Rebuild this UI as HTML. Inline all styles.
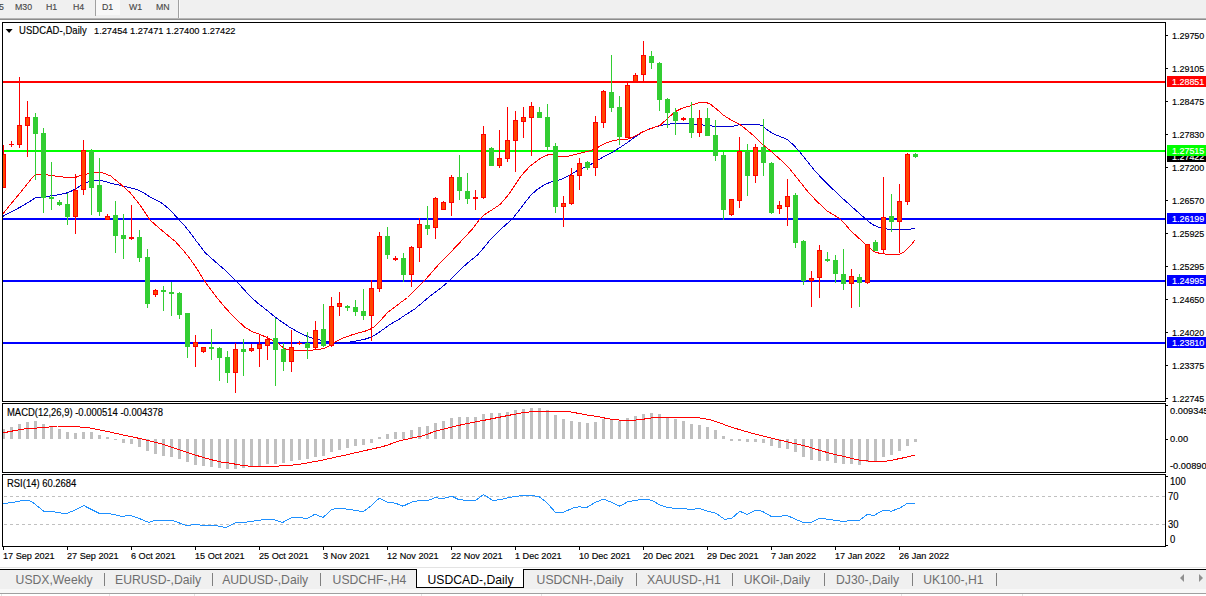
<!DOCTYPE html>
<html><head><meta charset="utf-8"><title>USDCAD-,Daily</title>
<style>
html,body{margin:0;padding:0;background:#fff;}
body{width:1206px;height:596px;position:relative;overflow:hidden;font-family:"Liberation Sans",sans-serif;}
.t{position:absolute;white-space:nowrap;line-height:12px;font-size:10.05px;color:#000;-webkit-text-stroke:0.15px currentColor;transform:scaleX(0.94);transform-origin:0 0;}
.ax{left:1171.6px;font-size:9.9px;transform:scaleX(0.905);}
.box{position:absolute;left:1167px;width:39px;height:11px;overflow:hidden;}
.box span{position:absolute;left:4.6px;top:0;font-size:9.9px;line-height:12px;color:#fff;-webkit-text-stroke:0.15px #fff;transform:scaleX(0.905);transform-origin:0 0;}
.dt{font-size:9.7px;top:550px;}
.tb{font-size:9.9px;color:#484848;top:1px;transform:scaleX(0.89);}
.tab{font-size:12.2px;line-height:16px;color:#6e6e6e;top:572px;-webkit-text-stroke:0;transform:none;}
.sep{position:absolute;top:573px;width:1px;height:13px;background:#808080;}
</style></head><body>
<div style="position:absolute;left:0;top:0;width:1206px;height:18px;background:#f0f0f0"></div>
<div style="position:absolute;left:0;top:18px;width:1206px;height:1px;background:#b4b4b4"></div>
<div style="position:absolute;left:0;top:19px;width:1206px;height:1px;background:#8c8c8c"></div>
<div style="position:absolute;left:95px;top:0;width:1px;height:16px;background:#a0a0a0"></div>
<div style="position:absolute;left:96px;top:0;width:24px;height:15px;background:#f8f8f8"></div>
<div style="position:absolute;left:178px;top:0;width:1px;height:18px;background:#a0a0a0"></div>
<div style="position:absolute;left:179px;top:0;width:1px;height:18px;background:#fafafa"></div>

<div class="t tb" style="left:-1.3px">5</div>
<div class="t tb" style="left:14.6px">M30</div>
<div class="t tb" style="left:45.6px">H1</div>
<div class="t tb" style="left:73px">H4</div>
<div class="t tb" style="left:101.5px">D1</div>
<div class="t tb" style="left:129.3px">W1</div>
<div class="t tb" style="left:155.5px">MN</div>
<div style="position:absolute;left:0;top:567px;width:1206px;height:1px;background:#e3e3e3"></div>
<div style="position:absolute;left:0;top:569px;width:1206px;height:20px;background:#f0f0f0"></div>
<div style="position:absolute;left:0;top:569px;width:1206px;height:1px;background:#000"></div>
<div style="position:absolute;left:0;top:589px;width:1206px;height:4px;background:#f8f8f8"></div>
<div style="position:absolute;left:0;top:593px;width:1206px;height:1px;background:#a0a0a0"></div>
<div style="position:absolute;left:1px;top:594px;width:1px;height:2px;background:#e4e4e4"></div>
<div style="position:absolute;left:109px;top:594px;width:1px;height:2px;background:#e4e4e4"></div>
<div style="position:absolute;left:194px;top:594px;width:1px;height:2px;background:#e4e4e4"></div>
<div style="position:absolute;left:421px;top:594px;width:1px;height:2px;background:#e4e4e4"></div>
<div style="position:absolute;left:541px;top:594px;width:1px;height:2px;background:#e4e4e4"></div>
<div style="position:absolute;left:901px;top:594px;width:1px;height:2px;background:#e4e4e4"></div>
<div style="position:absolute;left:1022px;top:594px;width:1px;height:2px;background:#e4e4e4"></div>
<div style="position:absolute;left:416px;top:569px;width:106px;height:18px;background:#fff;border:1px solid #000;border-top:none"></div>
<svg width="1206" height="596" viewBox="0 0 1206 596" style="position:absolute;left:0;top:0">
<defs><clipPath id="cm"><rect x="3" y="23" width="1162" height="378"/></clipPath></defs>
<g shape-rendering="crispEdges">
<rect x="3" y="81" width="1162" height="2" fill="#ff0000"/>
<rect x="3" y="150" width="1162" height="2" fill="#00ff00"/>
<rect x="3" y="218" width="1162" height="2" fill="#0000ff"/>
<rect x="3" y="280" width="1162" height="2" fill="#0000ff"/>
<rect x="3" y="342" width="1162" height="2" fill="#0000ff"/>
</g>
<g clip-path="url(#cm)" shape-rendering="crispEdges">
<polyline points="2.5,216.5 10.0,212.5 20.1,207.2 28.0,202.5 35.2,198.0 42.0,197.0 50.3,196.0 58.0,194.8 65.4,193.4 70.5,191.5 75.5,189.0 81.0,185.5 87.2,182.3 92.0,180.6 95.6,180.0 100.0,180.3 104.0,181.2 112.0,183.5 120.0,185.2 129.0,187.5 137.5,189.7 144.0,193.0 150.0,197.0 156.0,200.0 162.5,203.5 170.0,210.0 177.5,218.0 184.0,225.0 190.0,232.5 197.0,242.0 205.0,252.5 215.0,261.5 225.0,270.0 231.0,276.0 237.5,282.5 244.0,289.5 250.0,296.2 257.0,302.5 265.0,308.8 275.0,317.0 283.0,322.7 290.0,327.5 297.0,331.5 305.0,335.5 312.0,338.0 320.0,340.0 328.0,341.8 335.0,343.0 342.0,342.8 350.0,342.0 358.0,340.7 365.0,339.2 370.0,337.5 375.0,335.0 381.0,331.0 387.5,326.2 393.0,322.7 398.0,320.0 406.0,314.5 415.0,308.8 422.5,302.5 430.0,296.2 439.0,289.5 447.5,282.5 455.0,275.0 462.5,267.5 470.0,261.0 477.5,255.0 484.0,247.5 490.0,240.0 501.0,229.0 512.5,218.8 519.0,210.5 525.0,202.5 531.0,195.0 537.5,189.3 544.0,185.0 550.0,182.3 557.5,180.5 562.5,178.9 568.0,176.0 575.0,171.8 582.0,168.3 590.0,165.0 596.0,161.0 603.0,157.2 612.5,152.2 620.0,147.5 627.5,142.5 635.0,137.0 642.5,132.0 651.0,128.3 660.0,125.6 667.0,124.3 675.0,123.4 687.5,123.3 695.0,124.1 702.5,125.0 710.0,125.9 717.5,126.4 732.5,126.4 736.0,125.6 740.0,124.5 747.0,124.0 755.0,124.0 759.0,124.6 762.5,125.8 767.5,130.0 772.5,133.5 780.0,136.5 787.5,139.5 794.0,145.5 800.0,152.2 807.0,161.0 815.0,171.0 823.0,179.5 832.5,188.8 841.0,197.0 850.0,205.0 856.0,210.5 862.5,216.2 867.5,220.7 872.5,224.5 877.5,226.8 882.5,228.2 887.5,229.1 892.5,229.5 907.5,229.5 911.0,229.0 915.0,228.2" fill="none" stroke="#0000d0" stroke-width="1" stroke-linejoin="round"/>
<polyline points="2.5,214.5 10.0,205.0 20.0,193.0 30.0,180.5 35.2,174.5 40.3,174.0 50.3,175.3 62.5,177.0 75.5,177.4 80.5,175.5 87.2,174.0 95.6,172.2 100.0,172.0 104.0,173.3 110.7,176.0 120.0,183.7 130.0,192.5 140.0,205.0 150.0,220.0 162.5,231.0 175.0,241.2 183.0,250.0 190.0,258.8 197.0,269.0 203.8,280.0 214.0,294.0 225.0,307.5 235.0,318.0 245.0,327.5 252.0,331.5 260.0,334.5 268.0,338.0 275.0,341.2 280.0,345.0 285.0,348.8 290.0,350.2 295.0,350.5 307.5,350.5 318.0,349.6 325.0,348.0 330.0,345.5 335.0,342.0 342.0,338.5 350.0,335.5 358.0,333.0 365.0,331.2 370.0,329.3 375.0,326.2 381.0,320.0 387.5,312.5 392.5,308.8 400.0,303.0 407.5,297.5 416.0,289.0 425.0,280.0 432.5,271.5 440.0,263.0 448.5,254.5 457.5,245.0 465.0,237.0 472.5,228.8 477.5,222.0 482.5,216.2 486.0,213.5 490.0,211.2 495.0,207.9 500.0,204.5 505.0,199.0 510.0,192.5 515.0,185.0 520.0,177.5 525.0,171.5 530.0,166.2 535.0,162.5 541.0,158.0 547.5,155.0 552.0,154.7 557.0,156.3 562.5,157.0 569.0,156.0 575.0,154.5 585.0,152.0 591.0,150.5 597.5,147.5 603.0,144.5 610.0,141.4 617.0,140.0 627.5,139.3 635.0,136.0 642.5,132.0 651.0,128.5 660.0,125.4 667.0,119.0 675.0,111.8 682.0,108.3 690.0,105.9 696.0,103.6 701.2,102.0 706.0,102.4 710.0,104.0 716.0,108.5 722.5,114.5 731.0,120.0 740.0,124.5 747.5,130.5 755.0,137.0 762.5,144.5 770.0,150.5 778.0,157.5 787.5,166.2 797.0,178.0 807.5,191.2 817.0,201.5 827.5,211.2 834.0,215.0 840.0,218.8 845.0,224.0 850.0,230.0 857.0,236.5 865.0,243.8 870.0,248.5 875.0,252.0 881.0,253.7 887.5,254.2 900.0,254.2 904.0,252.0 907.5,248.8 911.0,245.0 915.0,240.0" fill="none" stroke="#ff0000" stroke-width="1" stroke-linejoin="round"/>
</g>
<g shape-rendering="crispEdges" clip-path="url(#cm)">
<rect x="3" y="145" width="1" height="43" fill="#ff0000"/>
<rect x="1" y="154" width="5" height="34" fill="#ff0000"/>
<rect x="2" y="155" width="3" height="32" fill="#ff4500"/>
<rect x="19" y="77" width="1" height="71" fill="#ff0000"/>
<rect x="17" y="125" width="5" height="20" fill="#ff0000"/>
<rect x="18" y="126" width="3" height="18" fill="#ff4500"/>
<rect x="27" y="101" width="1" height="56" fill="#ff0000"/>
<rect x="25" y="117" width="5" height="9" fill="#ff0000"/>
<rect x="26" y="118" width="3" height="7" fill="#ff4500"/>
<rect x="35" y="113" width="1" height="67" fill="#32cd32"/>
<rect x="33" y="117" width="5" height="17" fill="#32cd32"/>
<rect x="43" y="128" width="1" height="85" fill="#32cd32"/>
<rect x="41" y="133" width="5" height="65" fill="#32cd32"/>
<rect x="51" y="162" width="1" height="48" fill="#32cd32"/>
<rect x="49" y="197" width="5" height="2" fill="#32cd32"/>
<rect x="59" y="200" width="1" height="6" fill="#32cd32"/>
<rect x="57" y="202" width="5" height="3" fill="#32cd32"/>
<rect x="67" y="193" width="1" height="32" fill="#32cd32"/>
<rect x="65" y="204" width="5" height="13" fill="#32cd32"/>
<rect x="75" y="174" width="1" height="60" fill="#ff0000"/>
<rect x="73" y="190" width="5" height="27" fill="#ff0000"/>
<rect x="74" y="191" width="3" height="25" fill="#ff4500"/>
<rect x="83" y="140" width="1" height="55" fill="#ff0000"/>
<rect x="81" y="150" width="5" height="40" fill="#ff0000"/>
<rect x="82" y="151" width="3" height="38" fill="#ff4500"/>
<rect x="91" y="149" width="1" height="66" fill="#32cd32"/>
<rect x="89" y="151" width="5" height="37" fill="#32cd32"/>
<rect x="99" y="158" width="1" height="58" fill="#32cd32"/>
<rect x="97" y="185" width="5" height="27" fill="#32cd32"/>
<rect x="107" y="214" width="1" height="6" fill="#ff0000"/>
<rect x="105" y="216" width="5" height="4" fill="#ff0000"/>
<rect x="106" y="217" width="3" height="2" fill="#ff4500"/>
<rect x="115" y="201" width="1" height="52" fill="#32cd32"/>
<rect x="113" y="215" width="5" height="21" fill="#32cd32"/>
<rect x="123" y="214" width="1" height="45" fill="#32cd32"/>
<rect x="121" y="235" width="5" height="4" fill="#32cd32"/>
<rect x="131" y="205" width="1" height="35" fill="#ff0000"/>
<rect x="129" y="237" width="5" height="2" fill="#ff0000"/>
<rect x="139" y="230" width="1" height="32" fill="#32cd32"/>
<rect x="137" y="237" width="5" height="21" fill="#32cd32"/>
<rect x="147" y="249" width="1" height="59" fill="#32cd32"/>
<rect x="145" y="257" width="5" height="47" fill="#32cd32"/>
<rect x="155" y="289" width="1" height="8" fill="#ff0000"/>
<rect x="153" y="290" width="5" height="5" fill="#ff0000"/>
<rect x="154" y="291" width="3" height="3" fill="#ff4500"/>
<rect x="163" y="286" width="1" height="25" fill="#32cd32"/>
<rect x="161" y="290" width="5" height="2" fill="#32cd32"/>
<rect x="171" y="282" width="1" height="34" fill="#32cd32"/>
<rect x="169" y="292" width="5" height="2" fill="#32cd32"/>
<rect x="179" y="292" width="1" height="27" fill="#32cd32"/>
<rect x="177" y="293" width="5" height="22" fill="#32cd32"/>
<rect x="187" y="313" width="1" height="45" fill="#32cd32"/>
<rect x="185" y="313" width="5" height="34" fill="#32cd32"/>
<rect x="195" y="335" width="1" height="32" fill="#ff0000"/>
<rect x="193" y="342" width="5" height="5" fill="#ff0000"/>
<rect x="194" y="343" width="3" height="3" fill="#ff4500"/>
<rect x="203" y="347" width="1" height="6" fill="#ff0000"/>
<rect x="201" y="347" width="5" height="5" fill="#ff0000"/>
<rect x="202" y="348" width="3" height="3" fill="#ff4500"/>
<rect x="211" y="329" width="1" height="31" fill="#32cd32"/>
<rect x="209" y="347" width="5" height="2" fill="#32cd32"/>
<rect x="219" y="347" width="1" height="34" fill="#32cd32"/>
<rect x="217" y="348" width="5" height="10" fill="#32cd32"/>
<rect x="227" y="351" width="1" height="32" fill="#32cd32"/>
<rect x="225" y="357" width="5" height="16" fill="#32cd32"/>
<rect x="235" y="343" width="1" height="50" fill="#ff0000"/>
<rect x="233" y="349" width="5" height="24" fill="#ff0000"/>
<rect x="234" y="350" width="3" height="22" fill="#ff4500"/>
<rect x="243" y="339" width="1" height="37" fill="#32cd32"/>
<rect x="241" y="349" width="5" height="3" fill="#32cd32"/>
<rect x="251" y="344" width="1" height="8" fill="#ff0000"/>
<rect x="249" y="348" width="5" height="3" fill="#ff0000"/>
<rect x="250" y="349" width="3" height="1" fill="#ff4500"/>
<rect x="259" y="335" width="1" height="32" fill="#ff0000"/>
<rect x="257" y="344" width="5" height="5" fill="#ff0000"/>
<rect x="258" y="345" width="3" height="3" fill="#ff4500"/>
<rect x="267" y="336" width="1" height="24" fill="#ff0000"/>
<rect x="265" y="339" width="5" height="7" fill="#ff0000"/>
<rect x="266" y="340" width="3" height="5" fill="#ff4500"/>
<rect x="275" y="318" width="1" height="68" fill="#32cd32"/>
<rect x="273" y="338" width="5" height="12" fill="#32cd32"/>
<rect x="283" y="343" width="1" height="28" fill="#32cd32"/>
<rect x="281" y="349" width="5" height="13" fill="#32cd32"/>
<rect x="291" y="330" width="1" height="42" fill="#ff0000"/>
<rect x="289" y="347" width="5" height="15" fill="#ff0000"/>
<rect x="290" y="348" width="3" height="13" fill="#ff4500"/>
<rect x="307" y="332" width="1" height="27" fill="#32cd32"/>
<rect x="305" y="343" width="5" height="5" fill="#32cd32"/>
<rect x="315" y="321" width="1" height="29" fill="#ff0000"/>
<rect x="313" y="330" width="5" height="18" fill="#ff0000"/>
<rect x="314" y="331" width="3" height="16" fill="#ff4500"/>
<rect x="323" y="304" width="1" height="43" fill="#32cd32"/>
<rect x="321" y="329" width="5" height="17" fill="#32cd32"/>
<rect x="331" y="297" width="1" height="50" fill="#ff0000"/>
<rect x="329" y="306" width="5" height="40" fill="#ff0000"/>
<rect x="330" y="307" width="3" height="38" fill="#ff4500"/>
<rect x="339" y="292" width="1" height="24" fill="#ff0000"/>
<rect x="337" y="303" width="5" height="4" fill="#ff0000"/>
<rect x="338" y="304" width="3" height="2" fill="#ff4500"/>
<rect x="347" y="305" width="1" height="6" fill="#32cd32"/>
<rect x="345" y="306" width="5" height="2" fill="#32cd32"/>
<rect x="355" y="300" width="1" height="16" fill="#32cd32"/>
<rect x="353" y="307" width="5" height="5" fill="#32cd32"/>
<rect x="363" y="289" width="1" height="31" fill="#32cd32"/>
<rect x="361" y="311" width="5" height="5" fill="#32cd32"/>
<rect x="371" y="280" width="1" height="61" fill="#ff0000"/>
<rect x="369" y="288" width="5" height="28" fill="#ff0000"/>
<rect x="370" y="289" width="3" height="26" fill="#ff4500"/>
<rect x="379" y="232" width="1" height="60" fill="#ff0000"/>
<rect x="377" y="236" width="5" height="53" fill="#ff0000"/>
<rect x="378" y="237" width="3" height="51" fill="#ff4500"/>
<rect x="387" y="227" width="1" height="32" fill="#32cd32"/>
<rect x="385" y="236" width="5" height="19" fill="#32cd32"/>
<rect x="395" y="256" width="1" height="5" fill="#ff0000"/>
<rect x="393" y="258" width="5" height="2" fill="#ff0000"/>
<rect x="403" y="253" width="1" height="29" fill="#32cd32"/>
<rect x="401" y="258" width="5" height="17" fill="#32cd32"/>
<rect x="411" y="246" width="1" height="41" fill="#ff0000"/>
<rect x="409" y="247" width="5" height="28" fill="#ff0000"/>
<rect x="410" y="248" width="3" height="26" fill="#ff4500"/>
<rect x="419" y="218" width="1" height="44" fill="#ff0000"/>
<rect x="417" y="224" width="5" height="24" fill="#ff0000"/>
<rect x="418" y="225" width="3" height="22" fill="#ff4500"/>
<rect x="427" y="206" width="1" height="29" fill="#32cd32"/>
<rect x="425" y="225" width="5" height="4" fill="#32cd32"/>
<rect x="435" y="197" width="1" height="42" fill="#ff0000"/>
<rect x="433" y="198" width="5" height="30" fill="#ff0000"/>
<rect x="434" y="199" width="3" height="28" fill="#ff4500"/>
<rect x="443" y="201" width="1" height="9" fill="#ff0000"/>
<rect x="441" y="202" width="5" height="8" fill="#ff0000"/>
<rect x="442" y="203" width="3" height="6" fill="#ff4500"/>
<rect x="451" y="175" width="1" height="41" fill="#ff0000"/>
<rect x="449" y="177" width="5" height="26" fill="#ff0000"/>
<rect x="450" y="178" width="3" height="24" fill="#ff4500"/>
<rect x="459" y="155" width="1" height="45" fill="#32cd32"/>
<rect x="457" y="177" width="5" height="14" fill="#32cd32"/>
<rect x="467" y="173" width="1" height="31" fill="#32cd32"/>
<rect x="465" y="191" width="5" height="8" fill="#32cd32"/>
<rect x="475" y="190" width="1" height="20" fill="#ff0000"/>
<rect x="473" y="197" width="5" height="2" fill="#ff0000"/>
<rect x="483" y="126" width="1" height="73" fill="#ff0000"/>
<rect x="481" y="134" width="5" height="64" fill="#ff0000"/>
<rect x="482" y="135" width="3" height="62" fill="#ff4500"/>
<rect x="491" y="147" width="1" height="19" fill="#32cd32"/>
<rect x="489" y="148" width="5" height="18" fill="#32cd32"/>
<rect x="499" y="130" width="1" height="38" fill="#ff0000"/>
<rect x="497" y="158" width="5" height="8" fill="#ff0000"/>
<rect x="498" y="159" width="3" height="6" fill="#ff4500"/>
<rect x="507" y="107" width="1" height="55" fill="#ff0000"/>
<rect x="505" y="140" width="5" height="19" fill="#ff0000"/>
<rect x="506" y="141" width="3" height="17" fill="#ff4500"/>
<rect x="515" y="111" width="1" height="61" fill="#ff0000"/>
<rect x="513" y="120" width="5" height="21" fill="#ff0000"/>
<rect x="514" y="121" width="3" height="19" fill="#ff4500"/>
<rect x="523" y="107" width="1" height="31" fill="#ff0000"/>
<rect x="521" y="117" width="5" height="5" fill="#ff0000"/>
<rect x="522" y="118" width="3" height="3" fill="#ff4500"/>
<rect x="531" y="102" width="1" height="54" fill="#ff0000"/>
<rect x="529" y="106" width="5" height="12" fill="#ff0000"/>
<rect x="530" y="107" width="3" height="10" fill="#ff4500"/>
<rect x="539" y="107" width="1" height="11" fill="#32cd32"/>
<rect x="537" y="112" width="5" height="6" fill="#32cd32"/>
<rect x="547" y="104" width="1" height="46" fill="#32cd32"/>
<rect x="545" y="117" width="5" height="30" fill="#32cd32"/>
<rect x="555" y="143" width="1" height="70" fill="#32cd32"/>
<rect x="553" y="146" width="5" height="61" fill="#32cd32"/>
<rect x="563" y="196" width="1" height="31" fill="#ff0000"/>
<rect x="561" y="203" width="5" height="4" fill="#ff0000"/>
<rect x="562" y="204" width="3" height="2" fill="#ff4500"/>
<rect x="571" y="168" width="1" height="37" fill="#ff0000"/>
<rect x="569" y="175" width="5" height="29" fill="#ff0000"/>
<rect x="570" y="176" width="3" height="27" fill="#ff4500"/>
<rect x="579" y="158" width="1" height="32" fill="#ff0000"/>
<rect x="577" y="163" width="5" height="13" fill="#ff0000"/>
<rect x="578" y="164" width="3" height="11" fill="#ff4500"/>
<rect x="587" y="161" width="1" height="9" fill="#32cd32"/>
<rect x="585" y="162" width="5" height="6" fill="#32cd32"/>
<rect x="595" y="116" width="1" height="60" fill="#ff0000"/>
<rect x="593" y="122" width="5" height="46" fill="#ff0000"/>
<rect x="594" y="123" width="3" height="44" fill="#ff4500"/>
<rect x="603" y="90" width="1" height="38" fill="#ff0000"/>
<rect x="601" y="91" width="5" height="32" fill="#ff0000"/>
<rect x="602" y="92" width="3" height="30" fill="#ff4500"/>
<rect x="611" y="55" width="1" height="57" fill="#32cd32"/>
<rect x="609" y="92" width="5" height="16" fill="#32cd32"/>
<rect x="619" y="96" width="1" height="49" fill="#32cd32"/>
<rect x="617" y="107" width="5" height="30" fill="#32cd32"/>
<rect x="627" y="83" width="1" height="55" fill="#ff0000"/>
<rect x="625" y="85" width="5" height="53" fill="#ff0000"/>
<rect x="626" y="86" width="3" height="51" fill="#ff4500"/>
<rect x="635" y="73" width="1" height="9" fill="#ff0000"/>
<rect x="633" y="75" width="5" height="7" fill="#ff0000"/>
<rect x="634" y="76" width="3" height="5" fill="#ff4500"/>
<rect x="643" y="41" width="1" height="40" fill="#ff0000"/>
<rect x="641" y="55" width="5" height="20" fill="#ff0000"/>
<rect x="642" y="56" width="3" height="18" fill="#ff4500"/>
<rect x="651" y="51" width="1" height="18" fill="#32cd32"/>
<rect x="649" y="56" width="5" height="7" fill="#32cd32"/>
<rect x="659" y="62" width="1" height="49" fill="#32cd32"/>
<rect x="657" y="63" width="5" height="37" fill="#32cd32"/>
<rect x="667" y="98" width="1" height="30" fill="#32cd32"/>
<rect x="665" y="99" width="5" height="14" fill="#32cd32"/>
<rect x="675" y="108" width="1" height="27" fill="#32cd32"/>
<rect x="673" y="112" width="5" height="9" fill="#32cd32"/>
<rect x="691" y="102" width="1" height="36" fill="#32cd32"/>
<rect x="689" y="118" width="5" height="15" fill="#32cd32"/>
<rect x="699" y="110" width="1" height="27" fill="#ff0000"/>
<rect x="697" y="118" width="5" height="15" fill="#ff0000"/>
<rect x="698" y="119" width="3" height="13" fill="#ff4500"/>
<rect x="707" y="108" width="1" height="28" fill="#32cd32"/>
<rect x="705" y="118" width="5" height="18" fill="#32cd32"/>
<rect x="715" y="120" width="1" height="41" fill="#32cd32"/>
<rect x="713" y="135" width="5" height="21" fill="#32cd32"/>
<rect x="723" y="152" width="1" height="68" fill="#32cd32"/>
<rect x="721" y="155" width="5" height="55" fill="#32cd32"/>
<rect x="731" y="199" width="1" height="17" fill="#ff0000"/>
<rect x="729" y="199" width="5" height="16" fill="#ff0000"/>
<rect x="730" y="200" width="3" height="14" fill="#ff4500"/>
<rect x="739" y="137" width="1" height="71" fill="#ff0000"/>
<rect x="737" y="151" width="5" height="50" fill="#ff0000"/>
<rect x="738" y="152" width="3" height="48" fill="#ff4500"/>
<rect x="747" y="144" width="1" height="52" fill="#32cd32"/>
<rect x="745" y="151" width="5" height="25" fill="#32cd32"/>
<rect x="755" y="144" width="1" height="39" fill="#ff0000"/>
<rect x="753" y="147" width="5" height="29" fill="#ff0000"/>
<rect x="754" y="148" width="3" height="27" fill="#ff4500"/>
<rect x="763" y="119" width="1" height="57" fill="#32cd32"/>
<rect x="761" y="147" width="5" height="16" fill="#32cd32"/>
<rect x="771" y="162" width="1" height="52" fill="#32cd32"/>
<rect x="769" y="163" width="5" height="50" fill="#32cd32"/>
<rect x="779" y="201" width="1" height="13" fill="#ff0000"/>
<rect x="777" y="205" width="5" height="4" fill="#ff0000"/>
<rect x="778" y="206" width="3" height="2" fill="#ff4500"/>
<rect x="787" y="179" width="1" height="47" fill="#ff0000"/>
<rect x="785" y="196" width="5" height="11" fill="#ff0000"/>
<rect x="786" y="197" width="3" height="9" fill="#ff4500"/>
<rect x="795" y="193" width="1" height="55" fill="#32cd32"/>
<rect x="793" y="195" width="5" height="48" fill="#32cd32"/>
<rect x="803" y="240" width="1" height="45" fill="#32cd32"/>
<rect x="801" y="241" width="5" height="40" fill="#32cd32"/>
<rect x="811" y="271" width="1" height="36" fill="#ff0000"/>
<rect x="809" y="278" width="5" height="3" fill="#ff0000"/>
<rect x="810" y="279" width="3" height="1" fill="#ff4500"/>
<rect x="819" y="245" width="1" height="53" fill="#ff0000"/>
<rect x="817" y="250" width="5" height="28" fill="#ff0000"/>
<rect x="818" y="251" width="3" height="26" fill="#ff4500"/>
<rect x="827" y="252" width="1" height="10" fill="#32cd32"/>
<rect x="825" y="259" width="5" height="2" fill="#32cd32"/>
<rect x="835" y="255" width="1" height="28" fill="#32cd32"/>
<rect x="833" y="260" width="5" height="14" fill="#32cd32"/>
<rect x="843" y="249" width="1" height="41" fill="#32cd32"/>
<rect x="841" y="274" width="5" height="10" fill="#32cd32"/>
<rect x="851" y="269" width="1" height="39" fill="#ff0000"/>
<rect x="849" y="276" width="5" height="8" fill="#ff0000"/>
<rect x="850" y="277" width="3" height="6" fill="#ff4500"/>
<rect x="859" y="274" width="1" height="33" fill="#32cd32"/>
<rect x="857" y="277" width="5" height="6" fill="#32cd32"/>
<rect x="867" y="244" width="1" height="40" fill="#ff0000"/>
<rect x="865" y="244" width="5" height="39" fill="#ff0000"/>
<rect x="866" y="245" width="3" height="37" fill="#ff4500"/>
<rect x="875" y="240" width="1" height="11" fill="#32cd32"/>
<rect x="873" y="242" width="5" height="9" fill="#32cd32"/>
<rect x="883" y="177" width="1" height="77" fill="#ff0000"/>
<rect x="881" y="217" width="5" height="33" fill="#ff0000"/>
<rect x="882" y="218" width="3" height="31" fill="#ff4500"/>
<rect x="891" y="194" width="1" height="38" fill="#32cd32"/>
<rect x="889" y="216" width="5" height="6" fill="#32cd32"/>
<rect x="899" y="184" width="1" height="69" fill="#ff0000"/>
<rect x="897" y="201" width="5" height="21" fill="#ff0000"/>
<rect x="898" y="202" width="3" height="19" fill="#ff4500"/>
<rect x="907" y="153" width="1" height="52" fill="#ff0000"/>
<rect x="905" y="154" width="5" height="48" fill="#ff0000"/>
<rect x="906" y="155" width="3" height="46" fill="#ff4500"/>
<rect x="915" y="153" width="1" height="5" fill="#32cd32"/>
<rect x="913" y="154" width="5" height="3" fill="#32cd32"/>
<rect x="11" y="141" width="1" height="6" fill="#ff0000"/>
<rect x="9" y="144" width="5" height="1" fill="#ff0000"/>
<rect x="299" y="341" width="1" height="4" fill="#ff0000"/>
<rect x="297" y="343" width="5" height="1" fill="#ff0000"/>
<rect x="683" y="117" width="1" height="4" fill="#ff0000"/>
<rect x="681" y="118" width="5" height="2" fill="#ff0000"/>
</g>
<g shape-rendering="crispEdges" fill="#c0c0c0">
<rect x="3" y="429" width="2" height="10"/>
<rect x="10" y="427" width="3" height="12"/>
<rect x="18" y="424" width="3" height="15"/>
<rect x="26" y="422" width="3" height="17"/>
<rect x="34" y="421" width="3" height="18"/>
<rect x="42" y="424" width="3" height="15"/>
<rect x="50" y="427" width="3" height="12"/>
<rect x="58" y="429" width="3" height="10"/>
<rect x="66" y="432" width="3" height="7"/>
<rect x="74" y="433" width="3" height="6"/>
<rect x="82" y="432" width="3" height="7"/>
<rect x="90" y="432" width="3" height="7"/>
<rect x="98" y="435" width="3" height="4"/>
<rect x="106" y="437" width="3" height="2"/>
<rect x="114" y="439" width="3" height="1"/>
<rect x="122" y="439" width="3" height="4"/>
<rect x="130" y="439" width="3" height="5"/>
<rect x="138" y="439" width="3" height="8"/>
<rect x="146" y="439" width="3" height="12"/>
<rect x="154" y="439" width="3" height="15"/>
<rect x="162" y="439" width="3" height="17"/>
<rect x="170" y="439" width="3" height="18"/>
<rect x="178" y="439" width="3" height="20"/>
<rect x="186" y="439" width="3" height="23"/>
<rect x="194" y="439" width="3" height="26"/>
<rect x="202" y="439" width="3" height="27"/>
<rect x="210" y="439" width="3" height="28"/>
<rect x="218" y="439" width="3" height="29"/>
<rect x="226" y="439" width="3" height="30"/>
<rect x="234" y="439" width="3" height="30"/>
<rect x="242" y="439" width="3" height="29"/>
<rect x="250" y="439" width="3" height="28"/>
<rect x="258" y="439" width="3" height="27"/>
<rect x="266" y="439" width="3" height="25"/>
<rect x="274" y="439" width="3" height="25"/>
<rect x="282" y="439" width="3" height="24"/>
<rect x="290" y="439" width="3" height="22"/>
<rect x="298" y="439" width="3" height="21"/>
<rect x="306" y="439" width="3" height="20"/>
<rect x="314" y="439" width="3" height="18"/>
<rect x="322" y="439" width="3" height="17"/>
<rect x="330" y="439" width="3" height="13"/>
<rect x="338" y="439" width="3" height="11"/>
<rect x="346" y="439" width="3" height="9"/>
<rect x="354" y="439" width="3" height="7"/>
<rect x="362" y="439" width="3" height="6"/>
<rect x="370" y="439" width="3" height="4"/>
<rect x="378" y="437" width="3" height="2"/>
<rect x="386" y="434" width="3" height="5"/>
<rect x="394" y="432" width="3" height="7"/>
<rect x="402" y="432" width="3" height="7"/>
<rect x="410" y="430" width="3" height="9"/>
<rect x="418" y="427" width="3" height="12"/>
<rect x="426" y="426" width="3" height="13"/>
<rect x="434" y="423" width="3" height="16"/>
<rect x="442" y="421" width="3" height="18"/>
<rect x="450" y="418" width="3" height="21"/>
<rect x="458" y="417" width="3" height="22"/>
<rect x="466" y="417" width="3" height="22"/>
<rect x="474" y="417" width="3" height="22"/>
<rect x="482" y="414" width="3" height="25"/>
<rect x="490" y="413" width="3" height="26"/>
<rect x="498" y="413" width="3" height="26"/>
<rect x="506" y="412" width="3" height="27"/>
<rect x="514" y="410" width="3" height="29"/>
<rect x="522" y="409" width="3" height="30"/>
<rect x="530" y="408" width="3" height="31"/>
<rect x="538" y="408" width="3" height="31"/>
<rect x="546" y="410" width="3" height="29"/>
<rect x="554" y="415" width="3" height="24"/>
<rect x="562" y="419" width="3" height="20"/>
<rect x="570" y="421" width="3" height="18"/>
<rect x="578" y="422" width="3" height="17"/>
<rect x="586" y="423" width="3" height="16"/>
<rect x="594" y="422" width="3" height="17"/>
<rect x="602" y="419" width="3" height="20"/>
<rect x="610" y="420" width="3" height="19"/>
<rect x="618" y="421" width="3" height="18"/>
<rect x="626" y="418" width="3" height="21"/>
<rect x="634" y="416" width="3" height="23"/>
<rect x="642" y="414" width="3" height="25"/>
<rect x="650" y="413" width="3" height="26"/>
<rect x="658" y="414" width="3" height="25"/>
<rect x="666" y="417" width="3" height="22"/>
<rect x="674" y="419" width="3" height="20"/>
<rect x="682" y="421" width="3" height="18"/>
<rect x="690" y="424" width="3" height="15"/>
<rect x="698" y="425" width="3" height="14"/>
<rect x="706" y="427" width="3" height="12"/>
<rect x="714" y="430" width="3" height="9"/>
<rect x="722" y="436" width="3" height="3"/>
<rect x="730" y="439" width="3" height="2"/>
<rect x="738" y="439" width="3" height="2"/>
<rect x="746" y="439" width="3" height="3"/>
<rect x="754" y="439" width="3" height="3"/>
<rect x="762" y="439" width="3" height="4"/>
<rect x="770" y="439" width="3" height="7"/>
<rect x="778" y="439" width="3" height="9"/>
<rect x="786" y="439" width="3" height="10"/>
<rect x="794" y="439" width="3" height="13"/>
<rect x="802" y="439" width="3" height="18"/>
<rect x="810" y="439" width="3" height="21"/>
<rect x="818" y="439" width="3" height="22"/>
<rect x="826" y="439" width="3" height="22"/>
<rect x="834" y="439" width="3" height="24"/>
<rect x="842" y="439" width="3" height="25"/>
<rect x="850" y="439" width="3" height="25"/>
<rect x="858" y="439" width="3" height="26"/>
<rect x="866" y="439" width="3" height="23"/>
<rect x="874" y="439" width="3" height="22"/>
<rect x="882" y="439" width="3" height="18"/>
<rect x="890" y="439" width="3" height="16"/>
<rect x="898" y="439" width="3" height="12"/>
<rect x="906" y="439" width="3" height="7"/>
<rect x="914" y="439" width="3" height="3"/>
</g>
<g shape-rendering="crispEdges"><polyline points="2.5,433.0 15.0,430.5 25.0,428.8 37.5,428.0 47.0,427.2 57.5,426.0 72.5,426.5 87.5,427.5 98.0,429.5 110.0,432.0 123.0,435.0 137.5,438.0 150.0,441.0 162.5,444.2 175.0,448.3 187.5,452.5 200.0,456.5 212.5,460.0 221.0,462.0 230.0,463.2 240.0,465.0 250.0,466.2 275.0,466.2 286.0,465.7 298.0,464.5 310.0,462.4 323.0,460.0 335.0,457.3 348.0,454.5 360.0,451.7 373.0,448.8 381.0,447.0 388.0,445.0 393.0,443.0 398.0,441.2 410.0,438.5 423.0,435.8 429.0,433.6 435.5,431.2 448.0,428.0 460.5,425.0 473.0,422.4 485.5,420.0 498.0,417.5 510.5,415.0 520.0,413.2 530.5,411.8 539.0,411.3 548.0,411.2 565.5,411.2 573.0,412.3 580.5,413.8 588.0,415.2 596.0,416.2 602.0,417.5 608.5,418.8 613.0,419.6 618.5,420.0 636.0,420.0 641.0,419.5 646.0,418.8 652.0,417.9 658.5,417.5 696.0,417.5 704.0,418.5 711.0,420.0 720.0,423.0 728.5,426.2 740.0,429.8 751.0,433.0 761.0,435.6 771.0,438.0 787.0,441.8 803.5,445.5 812.0,448.0 821.0,450.8 833.0,454.0 846.0,457.0 855.0,459.2 863.5,460.8 873.0,461.2 885.0,461.2 890.0,460.6 895.0,459.5 905.0,457.5 915.0,455.0" fill="none" stroke="#ff0000" stroke-width="1" stroke-linejoin="round"/></g>
<g shape-rendering="crispEdges"><line x1="4" y1="496.5" x2="1165" y2="496.5" stroke="#c0c0c0" stroke-width="1" stroke-dasharray="3,3"/><line x1="4" y1="524.5" x2="1165" y2="524.5" stroke="#c0c0c0" stroke-width="1" stroke-dasharray="3,3"/></g>
<g shape-rendering="crispEdges"><polyline points="2.5,503.8 15.0,502.0 25.0,500.0 31.2,501.2 43.8,511.2 55.0,512.0 66.2,513.8 75.0,510.0 83.8,505.5 90.0,508.8 98.8,513.2 110.0,513.8 122.5,516.5 130.0,515.2 140.0,518.8 148.8,522.5 155.0,520.5 172.5,520.5 187.5,525.8 195.0,524.2 202.5,525.5 215.0,525.5 226.2,527.5 235.0,523.0 247.5,522.0 265.0,519.5 275.0,520.0 282.5,522.5 291.2,518.0 298.0,517.0 306.8,518.8 315.0,514.2 323.0,517.5 331.8,509.5 338.0,508.2 344.2,508.8 353.0,510.0 363.0,511.8 370.5,506.2 379.2,498.2 386.8,502.0 395.5,503.2 403.0,506.2 411.8,502.0 418.0,500.8 428.0,500.5 435.5,497.5 441.8,498.8 451.8,496.2 458.0,499.2 465.5,500.5 475.5,500.5 483.5,494.5 493.0,500.5 500.5,499.5 513.0,496.8 523.0,495.5 533.0,495.5 539.2,496.8 546.8,502.5 555.5,512.5 563.0,512.5 573.0,508.0 579.2,506.8 586.8,507.5 596.0,502.0 603.5,499.2 611.0,502.0 619.8,506.2 627.2,502.0 636.0,500.2 646.0,499.2 652.2,500.5 659.8,505.0 667.2,507.5 673.5,508.2 683.5,508.2 691.0,510.0 698.5,508.2 707.2,511.2 716.0,513.2 724.8,519.5 732.2,518.0 739.8,511.2 747.2,514.5 756.0,510.0 762.2,511.2 772.2,517.0 779.8,516.2 787.2,515.5 796.0,519.5 803.5,522.5 811.0,522.5 819.8,518.2 827.2,519.2 836.0,520.5 843.5,521.5 851.0,520.5 859.8,520.0 867.5,514.2 873.8,515.5 883.8,510.0 891.2,511.2 900.0,508.0 907.5,503.2 915.0,503.2" fill="none" stroke="#1e90ff" stroke-width="1" stroke-linejoin="round"/></g>
<g shape-rendering="crispEdges" fill="#000">
<rect x="2" y="22" width="1164" height="1"/>
<rect x="2" y="22" width="1" height="525"/>
<rect x="1165" y="22" width="1" height="525"/>
<rect x="2" y="401" width="1164" height="1"/>
<rect x="2" y="403" width="1164" height="1"/>
<rect x="2" y="472" width="1164" height="1"/>
<rect x="2" y="474" width="1164" height="1"/>
<rect x="2" y="546" width="1164" height="1"/>
<rect x="2" y="402" width="1204" height="1" fill="#fff"/>
<rect x="2" y="473" width="1204" height="1" fill="#fff"/>
<rect x="1166" y="35" width="2" height="1"/>
<rect x="1166" y="68" width="2" height="1"/>
<rect x="1166" y="101" width="2" height="1"/>
<rect x="1166" y="134" width="2" height="1"/>
<rect x="1166" y="167" width="2" height="1"/>
<rect x="1166" y="200" width="2" height="1"/>
<rect x="1166" y="233" width="2" height="1"/>
<rect x="1166" y="266" width="2" height="1"/>
<rect x="1166" y="299" width="2" height="1"/>
<rect x="1166" y="332" width="2" height="1"/>
<rect x="1166" y="365" width="2" height="1"/>
<rect x="1166" y="398" width="2" height="1"/>
<rect x="1166" y="405" width="2" height="1"/>
<rect x="1166" y="439" width="2" height="1"/>
<rect x="1166" y="476" width="2" height="1"/>
<rect x="1166" y="545" width="2" height="1"/>
<rect x="3" y="547" width="1" height="3"/>
<rect x="67" y="547" width="1" height="3"/>
<rect x="131" y="547" width="1" height="3"/>
<rect x="195" y="547" width="1" height="3"/>
<rect x="259" y="547" width="1" height="3"/>
<rect x="323" y="547" width="1" height="3"/>
<rect x="387" y="547" width="1" height="3"/>
<rect x="451" y="547" width="1" height="3"/>
<rect x="515" y="547" width="1" height="3"/>
<rect x="579" y="547" width="1" height="3"/>
<rect x="643" y="547" width="1" height="3"/>
<rect x="707" y="547" width="1" height="3"/>
<rect x="771" y="547" width="1" height="3"/>
<rect x="835" y="547" width="1" height="3"/>
<rect x="899" y="547" width="1" height="3"/>
</g>
</svg>
<div class="t ax" style="top:30px">1.29750</div>
<div class="t ax" style="top:63px">1.29105</div>
<div class="t ax" style="top:96px">1.28475</div>
<div class="t ax" style="top:129px">1.27830</div>
<div class="t ax" style="top:162px">1.27200</div>
<div class="t ax" style="top:195px">1.26570</div>
<div class="t ax" style="top:228px">1.25925</div>
<div class="t ax" style="top:261px">1.25295</div>
<div class="t ax" style="top:294px">1.24650</div>
<div class="t ax" style="top:327px">1.24020</div>
<div class="t ax" style="top:360px">1.23375</div>
<div class="t ax" style="top:393px">1.22745</div>
<div class="box" style="top:76px;height:11px;background:#ff0000"><span>1.28851</span></div>
<div class="box" style="top:151px;height:10.5px;background:#000000"><span>1.27422</span></div>
<div class="box" style="top:145px;height:11px;background:#00ff00"><span>1.27515</span></div>
<div class="box" style="top:213px;height:11px;background:#0000ff"><span>1.26199</span></div>
<div class="box" style="top:275px;height:11px;background:#0000ff"><span>1.24995</span></div>
<div class="box" style="top:337px;height:11px;background:#0000ff"><span>1.23810</span></div>
<div class="t" style="font-size:9.9px;top:405px;left:1169.5px">0.009345</div>
<div class="t" style="font-size:9.9px;top:433px;left:1169.5px">0.00</div>
<div class="t" style="font-size:9.9px;top:460px;left:1169.5px">-0.008902</div>
<div class="t" style="top:476px;left:1169.5px">100</div>
<div class="t" style="top:491px;left:1168px">70</div>
<div class="t" style="top:519px;left:1168px">30</div>
<div class="t" style="top:534px;left:1169.5px">0</div>
<svg style="position:absolute;left:0;top:0" width="20" height="40"><polygon points="5.6,29 12.6,29 9.1,33" fill="#000"/></svg>
<div class="t" style="left:18.5px;top:25px;letter-spacing:0.1px">USDCAD-,Daily</div>
<div class="t" style="left:93.5px;top:25px;font-size:9.85px">1.27454 1.27471 1.27400 1.27422</div>
<div class="t" style="left:7px;top:407px">MACD(12,26,9) -0.000514 -0.004378</div>
<div class="t" style="left:7px;top:478px">RSI(14) 60.2684</div>
<div class="t dt" style="left:2.5px">17 Sep 2021</div>
<div class="t dt" style="left:66.5px">27 Sep 2021</div>
<div class="t dt" style="left:130.5px">6 Oct 2021</div>
<div class="t dt" style="left:194.5px">15 Oct 2021</div>
<div class="t dt" style="left:258.5px">25 Oct 2021</div>
<div class="t dt" style="left:322.5px">3 Nov 2021</div>
<div class="t dt" style="left:386.5px">12 Nov 2021</div>
<div class="t dt" style="left:450.5px">22 Nov 2021</div>
<div class="t dt" style="left:514.5px">1 Dec 2021</div>
<div class="t dt" style="left:578.5px">10 Dec 2021</div>
<div class="t dt" style="left:642.5px">20 Dec 2021</div>
<div class="t dt" style="left:706.5px">29 Dec 2021</div>
<div class="t dt" style="left:770.5px">7 Jan 2022</div>
<div class="t dt" style="left:834.5px">17 Jan 2022</div>
<div class="t dt" style="left:898.5px">26 Jan 2022</div>
<div class="t tab" style="left:15.6px">USDX,Weekly</div>
<div class="t tab" style="left:115px">EURUSD-,Daily</div>
<div class="t tab" style="left:222.2px">AUDUSD-,Daily</div>
<div class="t tab" style="left:332.6px">USDCHF-,H4</div>
<div class="t tab" style="left:536.6px">USDCNH-,Daily</div>
<div class="t tab" style="left:647px">XAUUSD-,H1</div>
<div class="t tab" style="left:743.8px">UKOil-,Daily</div>
<div class="t tab" style="left:836px">DJ30-,Daily</div>
<div class="t tab" style="left:923.2px">UK100-,H1</div>
<div class="t tab" style="left:427.5px;color:#000">USDCAD-,Daily</div>
<div class="sep" style="left:104px"></div>
<div class="sep" style="left:212px"></div>
<div class="sep" style="left:320px"></div>
<div class="sep" style="left:636px"></div>
<div class="sep" style="left:732px"></div>
<div class="sep" style="left:824px"></div>
<div class="sep" style="left:912px"></div>
<div class="sep" style="left:996px"></div>
<div style="position:absolute;left:1180px;top:574px;width:0;height:0;border-top:4px solid transparent;border-bottom:4px solid transparent;border-right:4px solid #909090"></div>
<div style="position:absolute;left:1199px;top:574px;width:0;height:0;border-top:4px solid transparent;border-bottom:4px solid transparent;border-left:4px solid #909090"></div>
</body></html>
